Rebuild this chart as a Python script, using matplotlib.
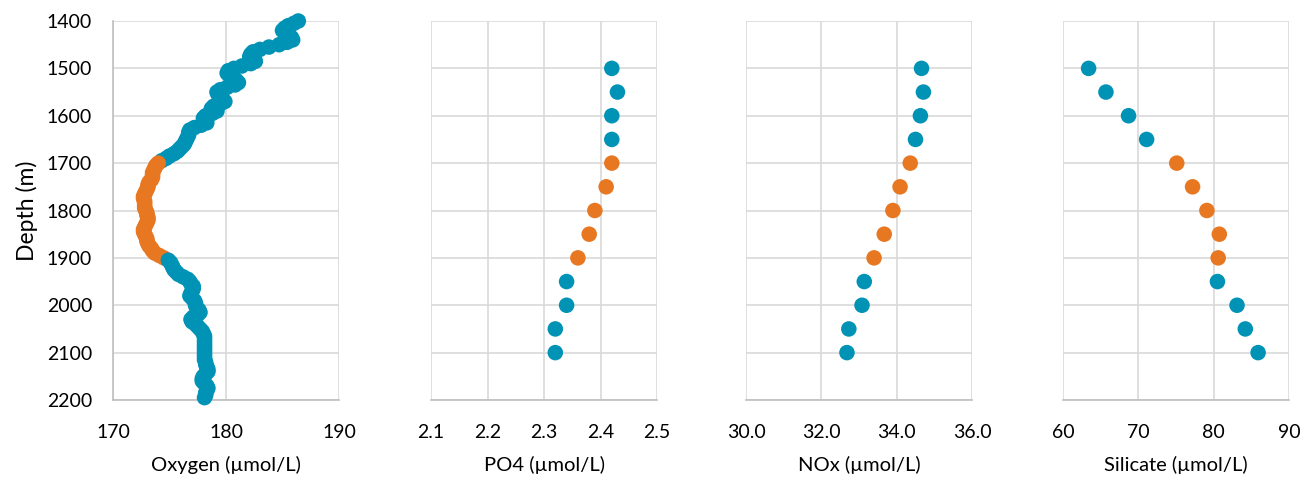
import numpy as np
import matplotlib
matplotlib.use('Agg')
import matplotlib.pyplot as plt

# CTD oxygen profile, every 5 m from 1400 m
oxygen_depth = np.arange(1400, 2200, 5)
oxygen = [186.4, 186.0, 185.5, 185.2, 185.0, 185.2, 185.5, 185.8, 185.9, 185.4,
          184.7, 183.8, 183.0, 182.4, 182.2, 182.1, 182.4, 182.6, 182.2, 181.4,
          180.7, 180.2, 180.1, 180.3, 180.6, 180.9, 181.1, 180.8, 180.1, 179.5,
          179.2, 179.3, 179.5, 179.7, 179.9, 179.5, 178.9, 178.7, 179.2, 178.8,
          178.2, 178.0, 178.2, 178.3, 177.8, 177.2, 176.8, 176.7, 176.7, 176.6,
          176.5, 176.4, 176.3, 176.1, 175.9, 175.7, 175.4, 175.0, 174.7, 174.3,
          174.0, 173.8, 173.7, 173.6, 173.5, 173.5, 173.5, 173.4, 173.2, 173.1,
          173.1, 173.0, 172.9, 172.8, 172.7, 172.7, 172.8, 172.8, 172.8, 172.8,
          172.9, 173.0, 173.0, 173.1, 173.1, 173.0, 172.9, 172.8, 172.7, 172.7,
          172.8, 172.9, 173.0, 173.0, 173.1, 173.2, 173.4, 173.5, 173.7, 174.1,
          174.5, 174.9, 175.1, 175.2, 175.3, 175.4, 175.6, 175.8, 176.2, 176.6,
          176.8, 176.9, 177.1, 177.1, 177.0, 176.9, 176.8, 177.0, 177.2, 177.3,
          177.3, 177.4, 177.6, 177.7, 177.5, 177.1, 176.9, 177.0, 177.3, 177.5,
          177.7, 177.9, 178.0, 178.1, 178.1, 178.1, 178.1, 178.1, 178.1, 178.1,
          178.1, 178.1, 178.1, 178.1, 178.2, 178.2, 178.3, 178.4, 178.4, 178.2,
          178.0, 177.9, 177.9, 178.1, 178.3, 178.4, 178.3, 178.2, 178.2, 178.1]

# bottle samples
sample_depth = [1500, 1550, 1600, 1650, 1700, 1750, 1800, 1850, 1900, 1950, 2000, 2050, 2100]
po4 = [2.42, 2.43, 2.42, 2.42, 2.42, 2.41, 2.39, 2.38, 2.36, 2.34, 2.34, 2.32, 2.32]
nox = [34.66, 34.71, 34.63, 34.50, 34.36, 34.09, 33.90, 33.67, 33.40, 33.14, 33.08, 32.73, 32.68]
silicate = [63.4, 65.7, 68.7, 71.1, 75.1, 77.2, 79.1, 80.75, 80.6, 80.5, 83.1, 84.2, 85.9]

# highlighted layer
layer_top = 1700
layer_bottom = 1900

blue = '#0093B5'
orange = '#E87722'

plt.rcParams['font.family'] = ['Lato', 'DejaVu Sans']

fig = plt.figure(figsize=(13.12, 4.84), dpi=100)

lefts = [113, 431, 746, 1063]
panels = [
    (oxygen_depth, oxygen, 'Oxygen (µmol/L)', [170, 180, 190], '%d'),
    (sample_depth, po4, 'PO4 (µmol/L)', [2.1, 2.2, 2.3, 2.4, 2.5], '%.1f'),
    (sample_depth, nox, 'NOx (µmol/L)', [30, 32, 34, 36], '%.1f'),
    (sample_depth, silicate, 'Silicate (µmol/L)', [60, 70, 80, 90], '%d'),
]

for i, (depth, vals, label, xticks, fmt) in enumerate(panels):
    ax = fig.add_axes([lefts[i] / 1312, 84 / 484, 226 / 1312, 379 / 484])
    depth = np.asarray(depth)
    cols = [orange if layer_top <= d <= layer_bottom else blue for d in depth]
    ax.scatter(vals, depth, c=cols, s=125, linewidths=0, zorder=3, clip_on=False)

    ax.set_xlim(xticks[0], xticks[-1])
    ax.set_ylim(2200, 1400)
    ax.set_xticks(xticks)
    ax.set_xticklabels([fmt % t for t in xticks])
    ax.set_yticks(np.arange(1400, 2201, 100))
    ax.grid(True, color='#D9D9D9', linewidth=1.2, zorder=0)
    ax.set_axisbelow(True)
    ax.tick_params(length=0, labelsize=14, colors='#000000')
    ax.tick_params(axis='x', pad=17)
    ax.tick_params(axis='y', pad=15)
    for s in ['top', 'right']:
        ax.spines[s].set_visible(False)
    ax.spines['bottom'].set_color('#BFBFBF')
    ax.spines['bottom'].set_linewidth(1.2)
    if i == 0:
        ax.spines['left'].set_color('#BFBFBF')
        ax.spines['left'].set_linewidth(1.2)
        ax.set_ylabel('Depth (m)', fontsize=16.5, labelpad=6)
    else:
        ax.spines['left'].set_visible(False)
        ax.set_yticklabels([])
    ax.set_xlabel(label, fontsize=14.5, labelpad=11)

fig.savefig('out.png', dpi=100)
